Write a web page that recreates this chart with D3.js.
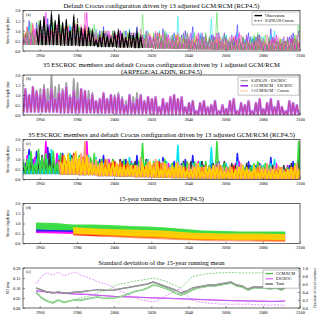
<!DOCTYPE html>
<html>
<head>
<script src="https://cdnjs.cloudflare.com/ajax/libs/d3/7.8.5/d3.min.js"></script>
<style>
  body { margin: 0; background: #fff; }
  text { font-family: "Liberation Serif", "DejaVu Serif", serif; }
</style>
</head>
<body>
<div id="chart"></div>
<script>
// ---- data (snow depth in m) ----
// visible winter spikes, one every 2 years, one array per GCM/RCM
var gcm1 = [1.1,.8,1.5,1.0,1.4, .9,.7,1.6,1.0,.5, 1.1,1.3,.6,1.2,.8, .9,.6,1.3,.9,.5, .8,1.0,1.2,.9,.6,
            .7,.5,.9,1.0,.8, .6,1.2,.7,.4,.6, .5,.9,.4,1.1,.8, .4,.9,.3,.8,1.0, .6,1.2,.3,.8,.7,
            .4,.8,.7,.9,.6, .7,.5,.4,1.3,.3, .5,.9,.6,.7,.8, .6,.3,1.1,.6,.5, .4,.3,.7,.9,.6];
var gcm2 = [.7,1.2,.6,1.1,1.3, 1.0,1.9,1.2,.6,1.3, .7,.9,1.2,1.0,1.3, .6,1.1,1.9,.9,.6, .5,.7,.6,1.0,.9,
            .8,1.0,.7,.5,.9, .5,.6,.7,.9,.8, .7,.9,.5,.4,.8, .6,.4,.5,.3,.9, .5,.4,.9,.7,.8,
            .6,.7,.9,.3,.8, .4,.5,.8,.9,.6, .7,.3,.5,.8,.4, .3,.5,.6,.8,.3, .5,.7,.6,.3,.4];
var gcm3 = [1.3,.6,1.2,.7,1.0, .9,.7,1.0,1.5,.7, 1.2,.6,.8,1.3,.9, .8,1.1,.7,1.2,.9, 1.1,.5,.8,1.0,.7,
            .9,.6,.5,.7,1.1, .8,.5,.6,.8,1.0, .6,.5,1.0,.6,.9, .7,.6,1.7,.6,.5, .7,.8,.6,.9,.6,
            .5,1.6,.6,.3,.7, .8,.4,.6,.9,.4, .6,.4,.7,.6,.5, .7,.3,.8,1.0,.4, .6,.5,.3,.5,.6];
var gcm4 = [.9,1.0,1.4,.8,1.5, 1.1,1.3,.7,1.4,.8, 1.3,1.0,.9,1.1,1.0, 1.2,.7,.8,1.1,1.3, .9,1.0,.7,.6,1.0,
            .6,.5,1.0,.9,.8, .7,.9,1.8,.9,.5, .9,.8,.7,1.0,.5, .8,.5,.7,.8,.9, .5,.9,.5,.7,.9,
            .7,.6,1.9,.4,.8, .6,.5,.4,.6,.7, .5,.6,.8,.9,.7, .8,.7,.4,.5,.6, .5,.6,.4,.8,1.9];
var gcm5 = [.8,1.1,.7,.8,1.2, .7,.9,1.0,1.1,1.3, .8,.6,1.1,.9,.6, .7,1.1,.8,.5,.7, .6,.9,1.0,.6,.9,
            .7,.9,.5,.9,.4, .6,.5,.6,.7,.5, .8,.4,.8,.7,.6, .5,.8,.5,.6,.3, .4,.5,.3,.6,.7,
            .6,.5,.6,.7,.3, .5,.6,.5,.3,.6, .4,.3,.4,.6,.3, .5,.4,.3,.5,.6, .3,.4,.6,.3,.4];
var gcm6 = [1.0,.9,.6,1.3,.9, .8,.6,.9,1.0,.6, 1.0,1.2,.9,.6,1.3, .6,1.0,1.2,.9,.5, .7,.5,.6,.7,.8,
            .9,.7,.8,.7,.6, .7,.4,.5,.6,.4, .5,.6,.9,.5,.7, .4,.5,.8,.4,.6, .6,.5,.7,.3,.4,
            .3,.4,.5,.5,.4, .6,.3,.7,.5,.4, .3,.4,.3,.5,.6, .4,.3,.5,.6,.4, .4,.5,.3,.6,.5];
var gcm7 = [.6,.8,.9,.7,.8, 1.2,1.0,1.3,.9,.8, .6,1.1,1.0,1.2,.7, 1.0,.9,.6,1.0,.9, .8,.6,.9,.8,1.0,
            .5,1.0,.6,.5,.8, .9,.7,.8,1.0,.7, .6,.7,.6,.9,.4, .8,.7,.4,.9,.6, .9,.4,.6,.9,.5,
            .7,.8,.4,.5,.9, .5,.8,.7,.6,.7, .8,.7,.6,.8,.5, .4,.6,.7,.5,.4, .7,.6,.8,.6,1.0];
var gcm8 = [1.2,.7,1.0,1.4,1.1, .9,.8,.7,.8,1.2, .9,.8,.7,.9,1.2, 1.0,1.3,1.9,1.1,.9, 1.0,.8,.7,1.0,.5,
            .6,.7,.6,.5,.7, .5,.7,1.1,.5,.9, .7,1.0,.5,.9,.8, .6,.5,.9,.7,.4, .8,.7,.8,.6,.6,
            .4,.5,.7,.8,.6, .6,.7,.3,.7,.8, .4,.5,.4,.5,.7, .6,.8,.6,.7,.7, .6,.4,.5,.4,.8];
var gcm9 = [.9,1.2,1.0,.6,.7, .8,.7,.9,.8,1.0, .9,1.2,1.3,1.0,1.4, 1.1,1.0,1.2,.8,.7, .7,.8,.6,.8,.9,
            .8,.6,.7,.6,.7, .7,.6,.8,.7,.9, .6,.9,.5,.8,.5, .7,.8,.7,.6,.5, .5,.6,.8,.4,.6,
            .6,.7,.6,.5,.4, .4,.5,.5,.6,.7, .6,.4,.7,.4,.5, .5,.4,.5,.4,.5, .4,.5,.6,.7,.5];
// first winter of each GCM/RCM array above
var gcmStart = { gcm1: 1950, gcm2: 1951, gcm3: 1950, gcm4: 1951, gcm5: 1951, gcm6: 1950, gcm7: 1951, gcm8: 1950, gcm9: 1951 };
// single GCM/RCM of panel (b), ARPEGE/ALADIN, from 1950
var arpege = [.9,1.3,1.0,1.4,1.2, 1.0,1.3,.7,1.3,.8, 1.1,1.2,1.4,.9,1.2, .8,1.3,1.2,.8,1.0, .7,.8,1.1,.8,1.0,
              .9,1.0,.8,.5,1.0, .6,.8,1.0,.7,.9, .8,.9,.4,.8,.6, .9,1.0,.8,.9,.4, .6,.7,.2,.6,.7,
              .4,.5,.7,.2,.5, .3,.7,.8,.2,.6, .5,.7,.2,.6,.8, .3,.6,.8,.4,.7, .4,.2,.7,.6,.5];
// reanalysis period, every 2 years from 1958 to 2014
var observation = [1.0,1.5,1.7,1.2,1.8, 1.5,1.8,1.4,1.5,1.0, 1.7,1.3,1.1,1.0,1.1, 1.0,.5,.7,.9,.7,
                   .6,.9,1.0,.8,.6, .9,.8,.9,.7];
var safran = [1.1,1.3,1.5,1.3,2.0, 1.4,1.5,1.3,1.6,1.0, 1.8,1.6,1.2,1.1,1.2, 1.1,.6,.8,1.0,.8,
              .7,1.0,1.1,.9,.7, 1.0,.9,1.1,.8];
// summer low by decade 1950s..2090s
var lowA = [.3,.3,.28,.25,.2,.18,.15,.12,.1,.08,.06,.05,.05,.04,.04];
var lowB = [.15,.15,.12,.12,.1,.08,.08,.06,.05,.03,.03,.02,.02,.02,.02];

// 15-year running mean, ESCROC spread (lo/hi) per GCM/RCM
var runYears = [1958,1968,1978,1988,1998,2008,2018,2028,2038,2048,2058,2068,2078,2088,2092];
var runGreenHi = [1.05,1.02,.95,.95,.92,.88,.85,.8,.72,.65,.62,.6,.6,.6,.6];
var runGreenLo = [.7,.68,.66,.68,.66,.62,.6,.57,.52,.48,.46,.44,.44,.43,.43];
var runCyanHi = [.95,.95,.92,.9,.86,.82,.8,.76,.68,.62,.6,.58,.58,.56,.56];
var runCyanLo = [.72,.7,.7,.68,.64,.6,.58,.54,.48,.45,.43,.42,.4,.4,.4];
var runBlueHi = [.9,.88,.86,.84,.8,.78,.75,.7,.6,.56,.55,.54,.55,.54,.54];
var runBlueLo = [.6,.6,.58,.55,.52,.5,.48,.45,.4,.38,.36,.35,.34,.34,.34];
var runMagHi = [.78,.76,.74,.72,.7,.66,.62,.6,.55,.52,.5,.48,.46,.45,.45];
var runMagLo = [.52,.5,.48,.46,.44,.42,.4,.38,.35,.32,.3,.28,.27,.26,.26];
var runRedHi = [null,null,.6,.55,.52,.48,.45,.42,.38,.36,.34,.32,.32,.3,.3];
var runRedLo = [null,null,.42,.38,.36,.33,.3,.28,.22,.2,.18,.17,.16,.15,.15];
var runSalHi = [null,null,.55,.5,.46,.42,.38,.34,.3,.28,.26,.24,.22,.22,.22];
var runSalLo = [null,null,.4,.36,.32,.28,.24,.2,.16,.13,.11,.1,.09,.08,.08];
var runOrgHi = [null,null,.7,.66,.62,.58,.54,.5,.42,.4,.38,.36,.35,.34,.34];
var runOrgLo = [null,null,.45,.42,.38,.34,.3,.26,.2,.18,.17,.16,.15,.14,.14];
var runYelHi = [null,null,.82,.76,.72,.7,.68,.64,.56,.52,.5,.5,.5,.48,.48];
var runYelLo = [null,null,.5,.46,.42,.38,.35,.31,.25,.22,.2,.19,.19,.18,.18];

// standard deviation of the running mean (left axis, m) and fraction of variance (right axis)
var sdYears = [1958,1961,1964,1967,1970,1973,1976,1979,1982,1985,1988,1991,1994,1997,2000,2003,2006,2009,2012,2015,2018,2021,2024,
               2027,2030,2033,2036,2039,2042,2045,2048,2051,2054,2057,2060,2063,2066,2069,2072,2075,2078,2081,2084,2087,2090,2092];
var sdGcm = [.08,.05,.035,.025,.04,.028,.035,.04,.038,.045,.05,.055,.05,.048,.05,.055,.065,.075,.085,.09,.1,.115,.11,
             .1,.09,.075,.065,.075,.09,.1,.105,.11,.11,.115,.12,.125,.11,.105,.09,.1,.1,.1,.095,.1,.09,.1];
var sdTotal = [.1,.09,.08,.075,.08,.075,.075,.08,.08,.085,.088,.092,.09,.088,.09,.095,.1,.105,.11,.115,.12,.13,.12,
               .11,.1,.09,.075,.085,.1,.105,.11,.115,.115,.12,.125,.13,.115,.11,.095,.105,.105,.105,.1,.105,.095,.105];
var sdEscroc = [.085,.083,.08,.078,.076,.074,.072,.07,.069,.068,.066,.064,.062,.06,.058,.057,.056,.055,.054,.053,.052,.051,.05,
                .049,.048,.047,.046,.045,.044,.043,.042,.041,.04,.039,.038,.037,.036,.036,.035,.035,.034,.034,.033,.033,.034,.035];
var fracGcm = [.4,.25,.17,.15,.2,.15,.18,.22,.25,.28,.32,.38,.42,.45,.55,.6,.62,.65,.68,.7,.72,.75,.72,
               .68,.62,.55,.5,.65,.78,.82,.84,.86,.87,.88,.88,.89,.88,.88,.87,.88,.88,.88,.88,.88,.87,.88];
var fracEscroc = [.6,.8,.88,.82,.9,.8,.85,.9,.82,.78,.72,.66,.62,.58,.5,.42,.38,.3,.25,.2,.18,.15,.2,
                  .28,.36,.44,.48,.32,.2,.16,.14,.12,.11,.1,.1,.09,.1,.09,.1,.08,.08,.08,.07,.08,.07,.07];

var xTickValues = [1960,1980,2000,2020,2040,2060,2080,2100];

// ---- drawing ----
var width = 320, height = 320;
var left = 23, right = 300;
var svg = d3.select("#chart").append("svg").attr("width", width).attr("height", height);
svg.append("rect").attr("width", width).attr("height", height).attr("fill", "#fff");

var x = d3.scaleLinear().domain([1951, 2100]).range([left, right]);

//Build one panel: clip region, marks group and axes on top.
function makePanel(id, top, bottom, yDomain, yTickValues, yFmt, ylabel, letter) {
    var y = d3.scaleLinear().domain(yDomain).range([bottom, top]);
    svg.append("clipPath").attr("id", "clip" + id)
        .append("rect").attr("x", left).attr("y", top).attr("width", right - left).attr("height", bottom - top);
    var plot = svg.append("g").attr("clip-path", "url(#clip" + id + ")");
    var axes = svg.append("g");

    var xa = axes.append("g").attr("transform", "translate(0," + bottom + ")")
        .call(d3.axisBottom(x).tickValues(xTickValues).tickFormat(d3.format("d")).tickSize(-2).tickPadding(2.5));
    var ya = axes.append("g").attr("transform", "translate(" + left + ",0)")
        .call(d3.axisLeft(y).tickValues(yTickValues).tickFormat(d3.format(yFmt)).tickSize(-2).tickPadding(2.5));
    [xa, ya].forEach(function(a) {
        a.select(".domain").remove();
        a.selectAll("line").attr("stroke", "#000").attr("stroke-width", 0.4);
        a.selectAll("text").attr("font-size", 4.3).attr("font-family", "Liberation Serif");
    });
    axes.append("rect").attr("x", left).attr("y", top).attr("width", right - left).attr("height", bottom - top)
        .attr("fill", "none").attr("stroke", "#000").attr("stroke-width", 0.6);
    axes.append("text").attr("transform", "translate(9," + ((top + bottom) / 2) + ") rotate(-90)")
        .attr("text-anchor", "middle").attr("font-size", 4.2).text(ylabel);
    axes.append("text").attr("x", left + 3).attr("y", top + 5).attr("font-size", 4.2).text(letter);
    return { y: y, plot: plot, axes: axes };
}

function title(lines, y0) {
    lines.forEach(function(t, i) {
        svg.append("text").attr("x", (left + right) / 2).attr("y", y0 + i * 7.5)
            .attr("text-anchor", "middle").attr("font-size", 6.6).text(t);
    });
}

//Turn the spikes (2 years apart) into a spike / summer-low zigzag.
function zig(peaks, startYear, lows) {
    var pts = [];
    peaks.forEach(function(p, i) {
        var yr = startYear + 2 * i;
        pts.push([yr + 0.3, p]);
        pts.push([yr + 1.3, lows[Math.min(14, Math.floor((yr - 1950) / 10))]]);
    });
    return pts;
}

function drawLine(p, pts, color, w, dash) {
    var line = d3.line().x(function(d) { return x(d[0]); }).y(function(d) { return p.y(d[1]); });
    p.plot.append("path").datum(pts).attr("d", line).attr("fill", "none")
        .attr("stroke", color).attr("stroke-width", w).attr("stroke-linejoin", "round")
        .attr("stroke-dasharray", dash || null);
}

function legend(p, x0, y0, w, items) {
    var g = p.axes.append("g");
    g.append("rect").attr("x", x0).attr("y", y0).attr("width", w).attr("height", items.length * 5.2 + 2.5)
        .attr("fill", "#fff").attr("stroke", "#888").attr("stroke-width", 0.5);
    items.forEach(function(it, i) {
        var yy = y0 + 3.6 + i * 5.2;
        g.append("line").attr("x1", x0 + 2.5).attr("x2", x0 + 10).attr("y1", yy).attr("y2", yy)
            .attr("stroke", it.color).attr("stroke-width", it.w).attr("stroke-dasharray", it.dash || null);
        g.append("text").attr("x", x0 + 13).attr("y", yy + 1.4).attr("font-size", 4).text(it.label);
    });
}

var depthTicks = [0, 0.5, 1, 1.5, 2];
var gcms = { gcm1: gcm1, gcm2: gcm2, gcm3: gcm3, gcm4: gcm4, gcm5: gcm5, gcm6: gcm6, gcm7: gcm7, gcm8: gcm8, gcm9: gcm9 };

// (a)
title(["Default Crocus configuration driven by 13 adjusted GCM/RCM (RCP4.5)"], 8);
var pa = makePanel("a", 10.5, 51, [0, 2], depthTicks, ".1f", "Snow depth (m)", "(a)");
var orderA = ["gcm5", "gcm1", "gcm3", "gcm9", "gcm6", "gcm2", "gcm7", "gcm4", "gcm8"];
var colorsA = ["#ff8c00", "#1f1fff", "#00e5ee", "#ffd700", "#ff2020", "#ff00ff", "#8a2be2", "#3ddc3d", "#ff69b4"];
orderA.forEach(function(k, i) { drawLine(pa, zig(gcms[k], gcmStart[k], lowA), colorsA[i], 0.55); });
drawLine(pa, zig(observation, 1958, lowA), "#000", 1.1);
drawLine(pa, zig(safran, 1958, lowA), "#000", 0.7, "2,1.2");
legend(pa, 252, 12, 47.5, [
    { label: "Observation", color: "#000", w: 1.4 },
    { label: "SAFRAN-Crocus", color: "#000", w: 0.8, dash: "2,1.2" }
]);

// (b)
title(["35 ESCROC members and default Crocus configuration driven by 1 adjusted GCM/RCM",
       "(ARPEGE/ALADIN, RCP4.5)"], 66.5);
var pb = makePanel("b", 75, 115, [0, 2], depthTicks, ".1f", "Snow depth (m)", "(b)");
drawLine(pb, zig(safran, 1958, lowB), "#a0a0a0", 1.8);
drawLine(pb, zig(arpege, 1950, lowB), "#c080ff", 2.6);
drawLine(pb, zig(arpege, 1950, lowB), "#8800ee", 1.0);
drawLine(pb, zig(arpege, 1950, lowB), "#ff8c3a", 0.5);
legend(pb, 238, 77, 61, [
    { label: "SAFRAN + ESCROC", color: "#a0a0a0", w: 1.4 },
    { label: "1 GCM/RCM + ESCROC", color: "#8800ee", w: 1.4 },
    { label: "1 GCM/RCM + Crocus", color: "#ff8c3a", w: 1, dash: "1,0.8" }
]);

// (c)
title(["35 ESCROC members and default Crocus configuration driven by 13 adjusted GCM/RCM (RCP4.5)"], 137);
var pc = makePanel("c", 139.5, 179.5, [0, 2], depthTicks, ".1f", "Snow depth (m)", "(c)");
var orderC = ["gcm1", "gcm2", "gcm3", "gcm7", "gcm4", "gcm6", "gcm8", "gcm5", "gcm9"];
var colorsC = ["#1f1fff", "#ff00ff", "#00e5ee", "#2f3f3f", "#3ddc3d", "#ff1a1a", "#ff9a7a", "#ff8c00", "#ffd200"];
var skipC = [0, 0, 0, 0, 0, 10, 10, 10, 10];   // these members start in the 1970s
orderC.forEach(function(k, i) {
    drawLine(pc, zig(gcms[k].slice(skipC[i]), gcmStart[k] + 2 * skipC[i], lowA), colorsC[i], 1.6);
});

// (d)
title(["15-year running mean (RCP4.5)"], 201);
var pd = makePanel("d", 203.5, 243.5, [0, 2], depthTicks, ".1f", "Snow depth (m)", "(d)");
var bands = [
    [runSalHi, runSalLo, "#ff9a7a"], [runRedHi, runRedLo, "#ff1a1a"], [runMagHi, runMagLo, "#ff00ff"],
    [runBlueHi, runBlueLo, "#1f1fff"], [runCyanHi, runCyanLo, "#00e5ee"], [runGreenHi, runGreenLo, "#3ddc3d"],
    [runOrgHi, runOrgLo, "#ff8c00"], [runYelHi, runYelLo, "#ffd200"]
];
bands.forEach(function(b) {
    var area = d3.area()
        .defined(function(d, i) { return b[0][i] !== null; })
        .x(function(d) { return x(d); })
        .y0(function(d, i) { return pd.y(b[1][i]); })
        .y1(function(d, i) { return pd.y(b[0][i]); })
        .curve(d3.curveMonotoneX);
    pd.plot.append("path").datum(runYears).attr("d", area).attr("fill", b[2]).attr("fill-opacity", 0.95);
});

// (e)
title(["Standard deviation of the 15-year running mean"], 265);
var pe = makePanel("e", 268, 308, [0, 0.2], [0, 0.05, 0.1, 0.15, 0.2], ".2f", "SD (m)", "(e)");
var yr = d3.scaleLinear().domain([0, 1]).range([308, 268]);
var ra = pe.axes.append("g").attr("transform", "translate(" + right + ",0)")
    .call(d3.axisRight(yr).tickValues([0, 0.2, 0.4, 0.6, 0.8, 1]).tickFormat(d3.format(".1f")).tickSize(-2).tickPadding(2.5));
ra.select(".domain").remove();
ra.selectAll("line").attr("stroke", "#000").attr("stroke-width", 0.4);
ra.selectAll("text").attr("font-size", 4.3);
pe.axes.append("text").attr("transform", "translate(316,288) rotate(-90)")
    .attr("text-anchor", "middle").attr("font-size", 4).text("Fraction of total variance");

function series(vals) { return sdYears.map(function(yy, i) { return [yy, vals[i]]; }); }
var peR = { y: yr, plot: pe.plot };
drawLine(peR, series(fracGcm), "#66cc66", 0.8, "2,1.3");
drawLine(peR, series(fracEscroc), "#dd77ff", 0.8, "2,1.3");
drawLine(pe, series(sdEscroc), "#dd77ff", 1.4);
drawLine(pe, series(sdEscroc), "#b040e0", 0.5);
drawLine(pe, series(sdGcm), "#55bb55", 1.6);
drawLine(pe, series(sdGcm), "#fff", 0.5);
drawLine(pe, series(sdTotal), "#666", 1.4);
drawLine(pe, series(sdTotal), "#fff", 0.4);
legend(pe, 263, 270, 36, [
    { label: "GCM/RCM", color: "#55bb55", w: 1.4 },
    { label: "ESCROC", color: "#dd77ff", w: 1.4 },
    { label: "Total", color: "#666", w: 1.4 }
]);
</script>
</body>
</html>
